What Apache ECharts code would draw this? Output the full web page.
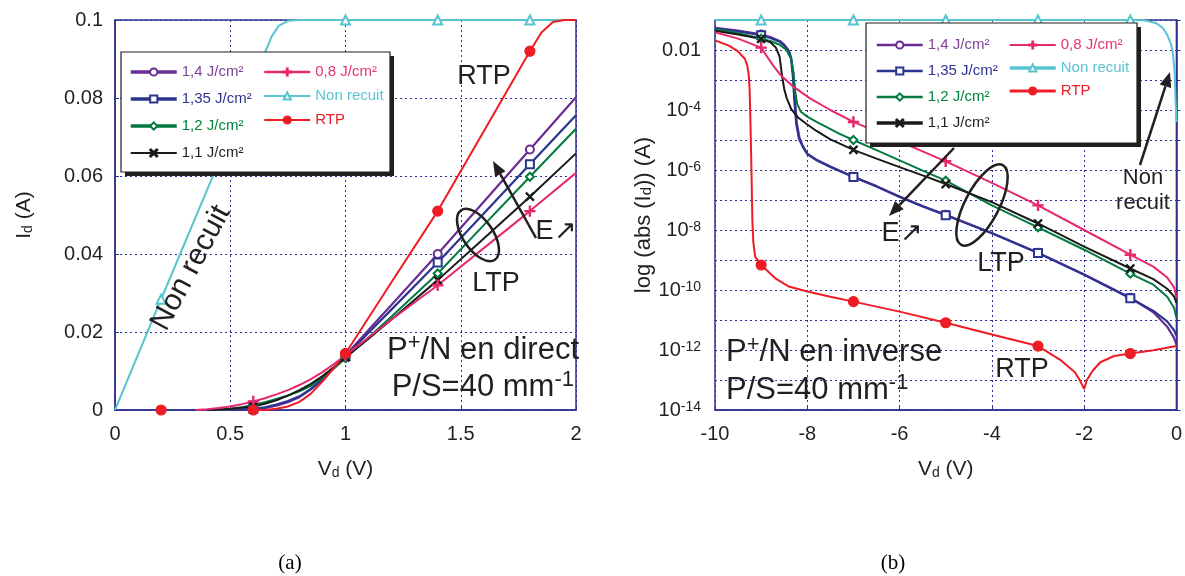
<!DOCTYPE html>
<html><head><meta charset="utf-8">
<script src="https://cdn.jsdelivr.net/npm/echarts@6/dist/echarts.min.js"></script>
<style>html,body{margin:0;padding:0;background:#fff}#c{width:1185px;height:576px}</style>
</head><body><div id="c"></div>
<script>
const FONT = "'Liberation Sans', Arial, sans-serif";
const INK = '#231F20';
const AXC = '#2E3192';

// ---------- series names and marker x positions ----------
const NAMES = ['1,4 J/cm²', '1,35 J/cm²', '1,2 J/cm²', '1,1 J/cm²', '0,8 J/cm²', 'Non recuit', 'RTP'];
const MARK_A = [0.2, 0.6, 1.0, 1.4, 1.8];
const MARK_B = [-9, -7, -5, -3, -1];

// ---------- panel (a): direct, linear ----------
const A_X = {min: 0, max: 2, step: 0.5};
const A_Y = {min: 0, max: 0.1, step: 0.02};
const a_p14 = [[0.5,0],[0.55,0.0001],[0.6,0.0002],[0.65,0.0005],[0.7,0.0011],[0.75,0.002],[0.8,0.0033],[0.85,0.0053],[0.9,0.0078],[0.95,0.0108],[1.0,0.014],[1.1,0.0205],[1.2,0.027],[1.4,0.040],[1.6,0.0534],[1.8,0.0668],[2.0,0.0802]];
const a_p135 = [[0.5,0],[0.55,0.0001],[0.6,0.0003],[0.65,0.0007],[0.7,0.0014],[0.75,0.0023],[0.8,0.0035],[0.85,0.0054],[0.9,0.0078],[0.95,0.0107],[1.0,0.0138],[1.1,0.0198],[1.2,0.0258],[1.4,0.0378],[1.6,0.0504],[1.8,0.063],[2.0,0.0756]];
const a_p12 = [[0.45,0],[0.5,0.0003],[0.55,0.0007],[0.6,0.0013],[0.65,0.002],[0.7,0.0028],[0.75,0.0037],[0.8,0.0048],[0.85,0.0062],[0.9,0.0083],[0.95,0.0107],[1.0,0.0133],[1.1,0.0186],[1.2,0.024],[1.4,0.035],[1.6,0.0474],[1.8,0.0598],[2.0,0.0721]];
const a_p11 = [[0.4,0],[0.45,0.0001],[0.5,0.0003],[0.55,0.0006],[0.6,0.0009],[0.65,0.0016],[0.7,0.0025],[0.75,0.0037],[0.8,0.0051],[0.85,0.0067],[0.9,0.0087],[0.95,0.011],[1.0,0.0135],[1.1,0.0183],[1.2,0.0232],[1.4,0.0333],[1.6,0.044],[1.8,0.0547],[2.0,0.0658]];
const a_p08 = [[0.35,0],[0.4,0.0002],[0.45,0.0005],[0.5,0.0009],[0.55,0.0015],[0.6,0.0022],[0.65,0.003],[0.7,0.004],[0.75,0.0051],[0.8,0.0064],[0.85,0.0079],[0.9,0.0097],[0.95,0.0118],[1.0,0.014],[1.1,0.0186],[1.2,0.0232],[1.4,0.032],[1.6,0.0415],[1.8,0.051],[2.0,0.0608]];
const a_nr = [[0,0],[0.2,0.0284],[0.4,0.0565],[0.6,0.0845],[0.68,0.0958],[0.71,0.0985],[0.75,0.0998],[0.8,0.1],[1.0,0.1],[1.4,0.1],[1.8,0.1],[2.0,0.1]];
const a_rtp = [[0.2,0],[0.4,null],[0.6,0],[0.65,0],[0.7,0.0003],[0.75,0.0009],[0.8,0.0021],[0.85,0.0042],[0.9,0.0073],[0.95,0.0108],[1.0,0.0145],[1.2,0.0328],[1.4,0.051],[1.6,0.0715],[1.8,0.092],[1.85,0.0968],[1.9,0.0995],[1.95,0.1],[2.0,0.1]];

// ---------- panel (b): inverse, log ----------
const B_X = {min: -10, max: 0, step: 2};
const B_Y = {min: 1e-14, max: 1e-1};
const b_p14 = [[-10,5.5e-2],[-9.5,4.4e-2],[-9,3.3e-2],[-8.8,2.7e-2],[-8.6,2.0e-2],[-8.5,1.5e-2],[-8.4,9.5e-3],[-8.35,5.5e-3],[-8.3,1.5e-3],[-8.27,2.5e-4],[-8.23,4e-5],[-8.17,1.2e-5],[-8.1,6.5e-6],[-8.0,3.5e-6],[-7.8,2.2e-6],[-7.5,1.3e-6],[-7,6.0e-7],[-6.5,2.9e-7],[-6,1.3e-7],[-5.5,6.3e-8],[-5,3.2e-8],[-4,8e-9],[-3,1.75e-9],[-2,3.3e-10],[-1,5.5e-11],[-0.5,1.8e-11],[-0.2,6e-12],[-0.05,2.5e-12],[0,1.5e-12]];
const b_p135 = [[-10,5.2e-2],[-9.5,4.2e-2],[-9,3.1e-2],[-8.8,2.5e-2],[-8.6,1.9e-2],[-8.5,1.4e-2],[-8.4,9e-3],[-8.35,5e-3],[-8.31,1.2e-3],[-8.28,2e-4],[-8.24,3.5e-5],[-8.18,1.1e-5],[-8.1,6e-6],[-8.0,3.4e-6],[-7.8,2.1e-6],[-7.5,1.25e-6],[-7,5.8e-7],[-6.5,2.8e-7],[-6,1.25e-7],[-5.5,6.1e-8],[-5,3.1e-8],[-4,7.8e-9],[-3,1.7e-9],[-2,3.2e-10],[-1,5.3e-11],[-0.5,2e-11],[-0.2,9e-12],[-0.05,4.5e-12],[0,3e-12]];
const b_p12 = [[-10,5e-2],[-9.5,3.6e-2],[-9,2.4e-2],[-8.8,2.0e-2],[-8.6,1.5e-2],[-8.45,1.0e-2],[-8.35,5e-3],[-8.3,1.8e-3],[-8.26,4e-4],[-8.22,1.6e-4],[-8.14,8.7e-5],[-8.0,6e-5],[-7.8,4e-5],[-7.6,2.8e-5],[-7.3,1.6e-5],[-7,1.0e-5],[-6.5,4.6e-6],[-6,2.1e-6],[-5.5,9.5e-7],[-5,4.4e-7],[-4,6.6e-8],[-3,1.23e-8],[-2,2.2e-9],[-1,3.5e-10],[-0.5,1.5e-10],[-0.2,6e-11],[-0.05,2.5e-11],[0,1.2e-11]];
const b_p11 = [[-10,4.4e-2],[-9.5,3.3e-2],[-9,2.35e-2],[-8.8,1.8e-2],[-8.68,1.2e-2],[-8.6,6e-3],[-8.55,1.5e-3],[-8.5,5e-4],[-8.45,2.6e-4],[-8.35,1.1e-4],[-8.2,5.6e-5],[-8.0,3.3e-5],[-7.8,2.0e-5],[-7.5,1.05e-5],[-7,4.7e-6],[-6.5,2.4e-6],[-6,1.25e-6],[-5.5,6.6e-7],[-5,3.4e-7],[-4,8.5e-8],[-3,1.65e-8],[-2,2.8e-9],[-1,5.2e-10],[-0.5,2.3e-10],[-0.2,1.1e-10],[-0.05,6e-11],[0,3.7e-11]];
const b_p08 = [[-10,3.9e-2],[-9.5,2.4e-2],[-9,1.2e-2],[-8.9,7e-3],[-8.75,3.2e-3],[-8.57,1.4e-3],[-8.3,6e-4],[-7.95,2.5e-4],[-7.5,1e-4],[-7,4.0e-5],[-6.5,1.9e-5],[-6,8.9e-6],[-5.5,4.2e-6],[-5,1.95e-6],[-4,3.7e-7],[-3,6.6e-8],[-2,1.0e-8],[-1,1.5e-9],[-0.5,6e-10],[-0.2,2.6e-10],[-0.05,1.2e-10],[0,5.5e-11]];
const b_nr = [[-10,0.1],[-9,0.1],[-7,0.1],[-5,0.1],[-3,0.1],[-1,0.1],[-0.7,0.098],[-0.45,0.08],[-0.3,0.055],[-0.2,0.032],[-0.12,0.016],[-0.08,8.7e-3],[-0.04,1.9e-3],[-0.02,2.5e-4],[0,4e-5]];
const b_rtp = [[-10,2.1e-2],[-9.7,1.4e-2],[-9.5,9e-3],[-9.35,5e-3],[-9.3,3e-3],[-9.27,1.5e-3],[-9.25,5e-4],[-9.23,3e-5],[-9.21,1e-6],[-9.19,2e-8],[-9.17,4e-9],[-9.13,1.3e-9],[-9,6.8e-10],[-8.7,2.5e-10],[-8.4,1.3e-10],[-8,8.9e-11],[-7.5,6e-11],[-7,4.1e-11],[-6,1.9e-11],[-5,8.1e-12],[-4,3.3e-12],[-3,1.35e-12],[-2.5,4.5e-13],[-2.2,1.8e-13],[-2.08,9e-14],[-2.0,5e-14],[-1.94,1e-13],[-1.82,2e-13],[-1.65,3.9e-13],[-1.35,6.3e-13],[-1,7.6e-13],[-0.5,9.8e-13],[0,1.35e-12]];

// ---------- styles ----------
const STY = {
  '1,4 J/cm²':  {color:'#6B2C91', text:'#7D3F98', width:2.2, symbol:'emptyCircle', size:8},
  '1,35 J/cm²': {color:'#2B3590', text:'#2E3192', width:2.2, symbol:'emptyRect', size:8},
  '1,2 J/cm²':  {color:'#007A3D', text:'#00843D', width:2, symbol:'emptyDiamond', size:8},
  '1,1 J/cm²':  {color:'#1A1A1A', text:'#231F20', width:2, symbol:'path://M0,1L1,0L5,4L9,0L10,1L6,5L10,9L9,10L5,6L1,10L0,9L4,5Z', size:8},
  '0,8 J/cm²':  {color:'#E6296E', text:'#E8336E', width:2, symbol:'path://M4.4,0H5.6V4.4H10V5.6H5.6V10H4.4V5.6H0V4.4H4.4Z', size:10},
  'Non recuit': {color:'#56C5D0', text:'#5BC4D0', width:2, symbol:'emptyTriangle', size:9},
  'RTP':        {color:'#EE1C25', text:'#ED1C24', width:2, symbol:'circle', size:10}
};

function mk(name, pts, marks, idx) {
  const s = STY[name];
  return {
    name, type: 'line', xAxisIndex: idx, yAxisIndex: idx, z: 2,
    smooth: false, symbol: s.symbol, symbolSize: s.size, showSymbol: true,
    connectNulls: false, animation: false, clip: true,
    lineStyle: {color: s.color, width: s.width},
    itemStyle: {color: s.color, borderColor: s.color, borderWidth: 1.2},
    emphasis: {disabled: true},
    data: pts.map(p => marks.some(m => Math.abs(m - p[0]) < 1e-9) && p[1] !== null
      ? {value: p} : {value: p, symbol: 'none'})
  };
}

const SERIES_A = [a_p14, a_p135, a_p12, a_p11, a_p08, a_nr, a_rtp];
const SERIES_B = [b_p14, b_p135, b_p12, b_p11, b_p08, b_nr, b_rtp];
const series = [];
NAMES.forEach((n, i) => series.push(mk(n, SERIES_A[i], MARK_A, 0)));
NAMES.forEach((n, i) => series.push(mk(n, SERIES_B[i], MARK_B, 1)));

const gridLine = {show: true, lineStyle: {color: AXC, type: [2, 3], width: 1}};
const axLine = {show: true, lineStyle: {color: AXC, width: 1.5}};
const tick = {show: true, inside: true, length: 4, lineStyle: {color: AXC}};
const lab = {color: INK, fontSize: 20, fontFamily: FONT};
const nameSty = {color: INK, fontSize: 21, fontFamily: FONT, rich: {sub: {fontSize: 14, fontFamily: FONT, color: INK, verticalAlign: 'bottom', lineHeight: 10}}};
const nameStyLog = {color: INK, fontSize: 22, fontFamily: FONT, rich: {sub: {fontSize: 15, fontFamily: FONT, color: INK, verticalAlign: 'bottom', lineHeight: 10}}};

function leg(names, left, top, gap, widths) {
  return {
    orient: 'vertical', left, top, padding: 0, itemGap: gap, itemWidth: 46, itemHeight: 9,
    selectedMode: false, z: 20,
    data: names.map((n, i) => ({name: n, textStyle: {color: STY[n].text}, lineStyle: {width: widths[i]}})),
    textStyle: {fontSize: 15, fontFamily: FONT, lineHeight: 16}
  };
}

function arrow(x1, y1, x2, y2) {
  const a = Math.atan2(y2 - y1, x2 - x1), L = 15, W = 6;
  const bx = x2 - L * Math.cos(a), by = y2 - L * Math.sin(a);
  const px = -Math.sin(a) * W, py = Math.cos(a) * W;
  return [
    {type: 'line', shape: {x1, y1, x2: bx, y2: by}, style: {stroke: INK, lineWidth: 2.5}, z: 15},
    {type: 'polygon', shape: {points: [[x2, y2], [bx + px, by + py], [bx - px, by - py]]}, style: {fill: INK}, z: 15}
  ];
}
function txt(x, y, text, size, align, rot) {
  return {type: 'text', x, y, rotation: rot || 0, z: 15,
    style: {text, fill: INK, fontSize: size, fontFamily: FONT, align: align || 'center', verticalAlign: 'middle',
      textAlign: align || 'center', textVerticalAlign: 'middle',
      rich: {sup: {fontSize: Math.round(size * 0.7), fontFamily: FONT, fill: INK, verticalAlign: 'top', lineHeight: Math.round(size * 0.7)},
             n: {fontSize: size, fontFamily: FONT, fill: INK, lineHeight: size + 6}}}};
}
function ell(cx, cy, rx, ry, rot) {
  return {type: 'ellipse', x: cx, y: cy, rotation: rot, shape: {cx: 0, cy: 0, rx, ry}, style: {fill: 'none', stroke: INK, lineWidth: 2.5}, z: 15};
}

const graphics = [
  // legend boxes (a)
  {type: 'rect', shape: {x: 125, y: 56, width: 269, height: 120}, style: {fill: INK}, z: 10},
  {type: 'rect', shape: {x: 121, y: 52, width: 269, height: 120}, style: {fill: '#fff', stroke: INK, lineWidth: 1.2}, z: 11},
  // legend boxes (b)
  {type: 'rect', shape: {x: 870, y: 27, width: 271, height: 120}, style: {fill: INK}, z: 10},
  {type: 'rect', shape: {x: 866, y: 23, width: 271, height: 120}, style: {fill: '#fff', stroke: INK, lineWidth: 1.2}, z: 11},
  // panel (a) annotations
  txt(484, 77, 'RTP', 27),
  txt(496, 284, 'LTP', 27),
  txt(556, 232, 'E↗', 27),
  ell(478, 235, 15, 30, 0.6),
  ...arrow(536, 238, 493, 161),
  txt(191, 268, 'Non recuit', 30, 'center', 1.08),
  txt(579, 350, '{n|P}{sup|+}{n|/N en direct}', 31, 'right'),
  txt(574, 387, '{n|P/S=40 mm}{sup|-1}', 31, 'right'),
  // panel (b) annotations
  txt(726, 352, '{n|P}{sup|+}{n|/N en inverse}', 31, 'left'),
  txt(726, 390, '{n|P/S=40 mm}{sup|-1}', 31, 'left'),
  txt(1022, 370, 'RTP', 27),
  txt(1001, 264, 'LTP', 27),
  txt(902, 234, 'E↗', 27),
  ell(982, 205, 17, 45, -0.48),
  ...arrow(954, 148, 889, 216),
  txt(1143, 178, 'Non', 22),
  txt(1143, 203, 'recuit', 22),
  ...arrow(1140, 165, 1170, 72),
  // captions
  {type: 'text', x: 290, y: 563, z: 15, style: {text: '(a)', fill: '#000', fontSize: 21, fontFamily: "'Liberation Serif', 'DejaVu Serif', serif", align: 'center', verticalAlign: 'middle', textAlign: 'center', textVerticalAlign: 'middle'}},
  {type: 'text', x: 893, y: 563, z: 15, style: {text: '(b)', fill: '#000', fontSize: 21, fontFamily: "'Liberation Serif', 'DejaVu Serif', serif", align: 'center', verticalAlign: 'middle', textAlign: 'center', textVerticalAlign: 'middle'}}
];

const option = {
  backgroundColor: '#fff',
  animation: false,
  grid: [
    {left: 115, top: 20, width: 461, height: 390, show: true, borderColor: AXC, borderWidth: 1.5, backgroundColor: 'transparent'},
    {left: 715, top: 20, width: 462, height: 390, show: true, borderColor: AXC, borderWidth: 1.5, backgroundColor: 'transparent'}
  ],
  xAxis: [
    {type: 'value', gridIndex: 0, min: A_X.min, max: A_X.max, interval: A_X.step,
     axisLine: axLine, axisTick: tick, splitLine: gridLine, axisLabel: Object.assign({margin: 14}, lab),
     name: 'V{sub|d} (V)', nameLocation: 'middle', nameGap: 49, nameTextStyle: nameSty},
    {type: 'value', gridIndex: 1, min: B_X.min, max: B_X.max, interval: B_X.step,
     axisLine: axLine, axisTick: tick, splitLine: gridLine, axisLabel: Object.assign({margin: 14}, lab),
     name: 'V{sub|d} (V)', nameLocation: 'middle', nameGap: 49, nameTextStyle: nameSty}
  ],
  yAxis: [
    {type: 'value', gridIndex: 0, min: A_Y.min, max: A_Y.max, interval: A_Y.step,
     axisLine: axLine, axisTick: tick, splitLine: gridLine, axisLabel: Object.assign({margin: 12}, lab),
     name: 'I{sub|d} (A)', nameLocation: 'middle', nameGap: 80, nameRotate: 90, nameTextStyle: nameSty},
    {type: 'log', logBase: 10, gridIndex: 1, min: B_Y.min, max: B_Y.max, interval: 1, splitNumber: 13,
     axisLine: axLine, axisTick: tick, splitLine: gridLine, minorTick: {show: false},
     axisLabel: Object.assign({margin: 14,
       formatter: v => { const k = Math.round(Math.log10(v)); if (k % 2 !== 0) return ''; if (k === -2) return '0.01'; return '10{sup|' + k + '}'; },
       rich: {sup: {fontSize: 14, fontFamily: FONT, color: INK, verticalAlign: 'top', lineHeight: 12}}}, lab),
     name: 'log (abs (I{sub|d})) (A)', nameLocation: 'middle', nameGap: 60, nameRotate: 90, nameTextStyle: nameStyLog}
  ],
  legend: [
    leg(NAMES.slice(0, 4), 129, 64, 11, [3.5, 3.5, 3.5, 2]),
    leg(NAMES.slice(4), 263, 64, 8, [2.5, 2, 2]),
    leg(NAMES.slice(0, 4), 875, 37, 10, [2.5, 2.5, 2.5, 3.5]),
    leg(NAMES.slice(4), 1008, 37, 7, [2, 3.5, 3])
  ],
  graphic: {elements: graphics},
  series
};

const chart = echarts.init(document.getElementById('c'), null, {renderer: 'canvas'});
chart.setOption(option);
</script></body></html>
